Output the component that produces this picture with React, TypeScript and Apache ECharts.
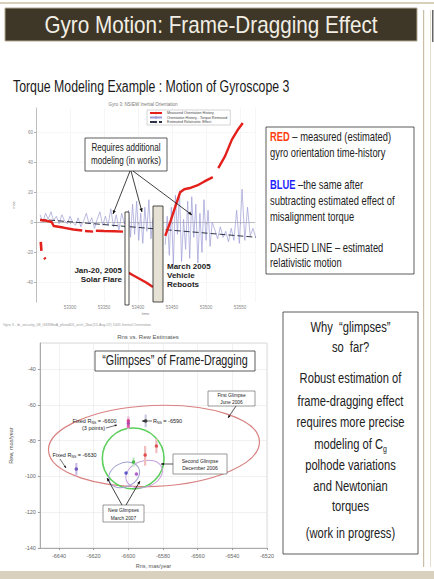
import React, { useEffect, useRef } from "react";
import * as echarts from "echarts";

const SANS = '"Liberation Sans", Arial, sans-serif';

// ---------------- top chart (Gyro 3 orientation history) ----------------
const topXTicks = [53300, 53350, 53400, 53450, 53500, 53550];
const topYTicks = [-40, -20, 0, 20, 40, 60];
const topNames = [
  "Measured Orientation History",
  "Orientation History - Torque Removed",
  "Estimated Relativistic Effect",
];

const redMeasured: [number, number | null][] = [
  [53256, 1.5], [53266, 1.0], [53273, 0.2], [53276, -2.5], [53290, -3.5], [53305, -4.8], [53318, -5.5], [53320, null],
  [53322, -5.8], [53334, -6.2], [53336, null],
  [53338, -5.6], [53350, -5.8], [53365, -6.0], [53378, -6.2], [53381, null],
  [53384, -33], [53392, -35], [53402, -37.5], [53412, -40], [53422, -43], [53430, null],
  [53440, -9], [53448, 1], [53456, 12], [53462, 20], [53468, 22], [53478, 23], [53487, 24.5], [53497, 27], [53510, 30], [53514, null],
  [53518, 36], [53528, 44], [53538, 55], [53546, 61], [53554, 66],
];
const redEarly: [number, number | null][] = [
  [53257, -13], [53258, -19], [53260, null], [53262, -23.5], [53264, -24.5],
];
const blueTorqueRemoved: [number, number | null][] = [
  [53256, 5], [53260, 0], [53264, 6], [53268, 2], [53272, 7], [53276, 1], [53280, 4], [53284, -1],
  [53288, 5], [53292, 1], [53296, -1], [53300, 4], [53304, 0], [53308, -2], [53312, 3], [53316, -3],
  [53320, 1], [53324, 6], [53328, -1], [53332, 3], [53336, -4], [53340, 2], [53344, 7], [53348, -2],
  [53352, 4], [53356, -2], [53360, 9], [53364, -3], [53368, 5], [53372, -5], [53376, 6], [53380, -1],
  [53386, 8], [53389, -10], [53392, 12], [53395, -8], [53398, 14], [53401, -12], [53404, 6], [53407, -14],
  [53410, 10], [53413, -6], [53416, 15], [53419, -11], [53422, 3], [53430, null],
  [53440, -15], [53443, 4], [53446, -22], [53449, 10], [53452, -28], [53455, 18], [53458, -8], [53461, 21],
  [53464, -26], [53467, 2], [53470, -18], [53473, 14], [53476, -24], [53479, 17], [53482, -10], [53485, 12],
  [53488, -27], [53491, 6], [53494, -20], [53497, 15], [53500, -12], [53503, 8], [53506, -16], [53509, 0],
  [53513, -5], [53517, -11], [53521, -3], [53525, -10], [53529, -6], [53533, -13], [53537, -4], [53541, -12],
  [53545, 8], [53549, -14], [53553, 22], [53557, -12], [53561, 10], [53565, -9], [53569, -4], [53573, -10],
];
const dashedRelativistic: [number, number][] = [[53256, 2], [53575, -10]];

// ---------------- bottom chart (Rns vs Rew estimates) ----------------
const bottomXTicks = [-6640, -6620, -6600, -6580, -6560, -6540, -6520];
const bottomYMin = -140;
const bottomYMax = -25.5;
const glimpsePoints: [number, number][] = [
  [-6600, -69], [-6600, -70.5], [-6600, -72],
  [-6590, -69],
  [-6583.8, -83],
  [-6590.3, -88],
  [-6597, -92],
  [-6601.3, -98.1],
  [-6595.3, -98.7],
  [-6630, -95.9],
];
const pointColors = ["#d6287a", "#9b2ca8", "#e04aa0", "#333333", "#d63a3a", "#e03030", "#2aaa2a", "#3a3ac0", "#9a3ac0", "#5a3ab0"];
// [x, low, high]
const errorBars: [number, number, number][] = [
  [-6600, -66.5, -73.5],
  [-6590, -65.5, -72.5],
  [-6583.8, -79, -87],
  [-6590.3, -83, -94],
  [-6597, -89.5, -94.5],
  [-6630, -92.5, -99.5],
];
const errorColors = ["#e8bcd8", "#c8c8dc", "#f0bcbc", "#f0bcbc", "#bfe6bf", "#cbbde8"];
// [cx, cy, rx, ry, rotationDeg]
const ellipses: [number, number, number, number, number][] = [
  [-6585.2, -83.0, 60.9, 22.6, 2.5],
  [-6597.2, -90.0, 17.8, 17.0, 0],
  [-6602.4, -99.2, 9.3, 6.7, 25],
  [-6590.9, -98.7, 10.9, 7.3, 20],
];
const ellipseColors = ["#d98080", "#5ccf5c", "#a0a0d0", "#c8a0dc"];
const ellipseWidths = [1.2, 1.6, 1, 1];

// ---------------- graphic helpers ----------------
const g: any[] = [];
function rect(x: number, y: number, w: number, h: number, fill: string, stroke?: string, lw = 0.8) {
  g.push({ type: "rect", z: 100, shape: { x, y, width: w, height: h }, style: { fill, stroke: stroke ?? "none", lineWidth: lw } });
}
function text(x: number, y: number, t: string, o: { size: number; color?: string; align?: string; weight?: string; sx?: number; rich?: any }) {
  g.push({
    type: "text", z: 101, x, y, scaleX: o.sx ?? 1,
    style: {
      text: t, fill: o.color ?? "#222",
      font: `${o.weight ?? "normal"} ${o.size}px ${SANS}`,
      textAlign: o.align ?? "left", textVerticalAlign: "middle",
      rich: o.rich,
    },
  });
}
function arrow(x1: number, y1: number, x2: number, y2: number, lw = 0.8, head = 4, color = "#111") {
  const a = Math.atan2(y2 - y1, x2 - x1);
  const p1 = [x2 - head * Math.cos(a - 0.42), y2 - head * Math.sin(a - 0.42)];
  const p2 = [x2 - head * Math.cos(a + 0.42), y2 - head * Math.sin(a + 0.42)];
  g.push({ type: "line", z: 100, shape: { x1, y1, x2, y2 }, style: { stroke: color, lineWidth: lw } });
  g.push({ type: "polygon", z: 100, shape: { points: [[x2, y2], p1, p2] }, style: { fill: color } });
}
const sub = (size: number) => ({ s: { fontSize: size, fontFamily: SANS, verticalAlign: "bottom", lineHeight: size * 2.2 } });

// slide frame
rect(0, 2, 434, 2, "#d9d0bb");
rect(5, 8, 412, 33, "#3e3627", "#b3aa92", 1);
text(211, 25, "Gyro Motion: Frame-Dragging Effect", { size: 23, sx: 0.9, color: "#f2eee4", align: "center" });
rect(423, 10, 1.2, 557, "#c9bea5");
rect(430, 10, 1, 557, "#e4ddcc");
rect(432, 10, 1.5, 32, "#666666");
rect(0, 571, 434, 8, "#d9d0bd");

text(13, 86, "Torque Modeling Example : Motion of Gyroscope 3", { size: 16, sx: 0.77, color: "#1a1a1a" });

// top chart annotations
text(143, 104, "Gyro 3: NS/EW Inertial Orientation", { size: 4.5, color: "#777", align: "center" });
rect(85, 138, 82, 33, "#ffffff", "#333", 0.8);
text(126, 148, "Requires additional", { size: 10.5, sx: 0.77, align: "center" });
text(126, 161, "modeling (in works)", { size: 10.5, sx: 0.77, align: "center" });
arrow(130, 171, 113, 214);
arrow(131, 171, 142, 212);
arrow(133, 171, 192, 215);
rect(125, 212, 4, 93, "#fffef8", "#222", 0.8);
rect(153, 206, 10, 96, "#e6e1d5", "#222", 0.8);
text(122, 270, "Jan-20, 2005", { size: 8, weight: "bold", align: "right" });
text(122, 279, "Solar Flare", { size: 8, weight: "bold", align: "right" });
text(167, 266, "March 2005", { size: 8, weight: "bold" });
text(167, 275, "Vehicle", { size: 8, weight: "bold" });
text(167, 284, "Reboots", { size: 8, weight: "bold" });

// right box 1
rect(266, 127, 148, 147, "#ffffff", "#333", 0.8);
const richRB = {
  r: { fill: "#ff3d0d", fontWeight: "bold", fontSize: 12, fontFamily: SANS },
  b: { fill: "#1f1fff", fontWeight: "bold", fontSize: 12, fontFamily: SANS },
};
const b1 = { size: 12, sx: 0.78, rich: richRB };
text(270, 137, "{r|RED} – measured (estimated)", b1);
text(270, 153, "gyro orientation time-history", b1);
text(270, 185, "{b|BLUE} –the same after", b1);
text(270, 201, "subtracting estimated effect of", b1);
text(270, 217, "misalignment torque", b1);
text(270, 248, "DASHED LINE – estimated", b1);
text(270, 263, "relativistic motion", b1);

// right box 2
rect(283, 312, 135, 242, "#ffffff", "#333", 0.8);
const b2 = { size: 14.5, sx: 0.77, align: "center" };
text(350.5, 327, "Why  “glimpses”", b2);
text(350.5, 347, "so  far?", b2);
text(350.5, 378, "Robust estimation of", b2);
text(350.5, 401, "frame-dragging effect", b2);
text(350.5, 422, "requires more precise", b2);
text(350.5, 444, "modeling of C{s|g}", { ...b2, rich: sub(9) });
text(350.5, 465, "polhode variations", b2);
text(350.5, 486, "and Newtonian", b2);
text(350.5, 506, "torques", b2);
text(350.5, 533, "(work in progress)", b2);

// bottom chart annotations
text(3, 325, "Gyro 3 - dr_security_08_GSSMwA_pfixedD5_arch_2bar(15-Aug-07) 1005 Inertial Orientation", { size: 3.6, color: "#999" });
text(148, 337, "Rns vs. Rew Estimates", { size: 6, color: "#555", align: "center" });
rect(95, 351, 160, 20, "#ffffff", "#333", 0.8);
text(175, 361, "“Glimpses” of Frame-Dragging", { size: 14, sx: 0.77, align: "center" });

rect(208, 391, 47, 15, "#ffffff", "#555", 0.6);
text(231.5, 395, "First Glimpse", { size: 4.8, align: "center" });
text(231.5, 402, "June 2006", { size: 4.8, align: "center" });
arrow(236, 406, 228, 418, 0.7, 3);

rect(173, 454, 54, 20, "#ffffff", "#555", 0.6);
text(200, 461, "Second Glimpse", { size: 5, align: "center" });
text(200, 468, "December 2006", { size: 5, align: "center" });
arrow(173, 464, 161, 464, 0.7, 3);

rect(103, 505, 41, 17, "#ffffff", "#555", 0.6);
text(123.5, 510, "New Glimpses", { size: 4.8, align: "center" });
text(123.5, 518, "March 2007", { size: 4.8, align: "center" });
arrow(122, 505, 107, 478, 0.8, 3.5);
arrow(126, 505, 140, 481, 0.8, 3.5);

text(94.5, 421, "Fixed R{s|NS} = -6600", { size: 5.5, align: "center", rich: sub(3.5) });
text(93.5, 428, "(3 points)", { size: 5.5, align: "center" });
arrow(106, 428, 117, 425, 0.6, 2.5);
text(153, 421, "R{s|NS} = -6590", { size: 5.5, rich: sub(3.5) });
arrow(152, 421, 142, 421, 0.6, 2.5);
text(74.5, 455, "Fixed R{s|NS} = -6630", { size: 5.5, align: "center", rich: sub(3.5) });
arrow(60, 459, 66, 468, 0.6, 2.5);

// ---------------- option ----------------
const axisGray = "#b0b0b0";
const plain = (v: number) => String(v);
const option: any = {
  animation: false,
  backgroundColor: "#ffffff",
  textStyle: { fontFamily: SANS },
  grid: [
    { left: 36, top: 108, width: 219, height: 194 },
    { left: 28, top: 343, width: 239, height: 205, show: true, borderColor: "#d0d0d0", borderWidth: 0.8 },
  ],
  legend: {
    data: topNames, left: 147, top: 110, orient: "vertical", itemWidth: 12, itemHeight: 3, itemGap: 0.5,
    padding: [1, 3, 1, 2], backgroundColor: "#ffffff", borderColor: "#aaaaaa", borderWidth: 0.5,
    textStyle: { fontSize: 3.6, color: "#444" }, selectedMode: false,
  },
  xAxis: [
    {
      type: "value", gridIndex: 0, min: 53250, max: 53572, interval: 50,
      axisLine: { lineStyle: { color: axisGray, width: 0.8 } },
      axisTick: { length: 2, lineStyle: { color: axisGray } },
      axisLabel: { fontSize: 4.5, color: "#888", margin: 3, showMinLabel: false, showMaxLabel: false, formatter: plain },
      splitLine: { lineStyle: { color: "#f0f0f0", width: 0.6 } },
      name: "time", nameLocation: "middle", nameGap: 9, nameTextStyle: { fontSize: 4, color: "#888" },
    },
    {
      type: "value", gridIndex: 1, min: -6651, max: -6520,
      axisLine: { lineStyle: { color: "#999", width: 0.8 } },
      axisTick: { customValues: bottomXTicks, length: 2, lineStyle: { color: "#999" } },
      axisLabel: { customValues: bottomXTicks, fontSize: 5.5, color: "#666", margin: 5, formatter: plain },
      splitLine: { lineStyle: { color: "#e8e8e8", width: 0.6 } },
      name: "Rns, mas/year", nameLocation: "middle", nameGap: 15, nameTextStyle: { fontSize: 5.5, color: "#555" },
    },
  ],
  yAxis: [
    {
      type: "value", gridIndex: 0, min: -53, max: 76,
      axisLine: { show: true, lineStyle: { color: axisGray, width: 0.8 } },
      axisTick: { show: true, customValues: topYTicks, length: 2, lineStyle: { color: axisGray } },
      axisLabel: { customValues: topYTicks, fontSize: 4.5, color: "#888", margin: 3, formatter: plain },
      splitLine: { lineStyle: { color: "#f2f2f2", width: 0.6 } },
      name: "mas", nameLocation: "middle", nameGap: 15, nameRotate: 90, nameTextStyle: { fontSize: 4, color: "#888" },
    },
    {
      type: "value", gridIndex: 1, min: bottomYMin, max: bottomYMax, interval: 20,
      axisLine: { show: true, lineStyle: { color: "#999", width: 0.8 } },
      axisTick: { show: true, length: 2, lineStyle: { color: "#999" } },
      axisLabel: { fontSize: 5.5, color: "#666", margin: 4, showMaxLabel: false, formatter: plain },
      splitLine: { lineStyle: { color: "#e8e8e8", width: 0.6 } },
      name: "Rew, mas/year", nameLocation: "middle", nameGap: 16, nameRotate: 90, nameTextStyle: { fontSize: 5.5, color: "#555" },
    },
  ],
  series: [
    {
      name: topNames[1], type: "line", xAxisIndex: 0, yAxisIndex: 0, data: blueTorqueRemoved,
      symbol: "none", connectNulls: false, lineStyle: { color: "#9c9cd6", width: 0.7 }, itemStyle: { color: "#9c9cd6" },
    },
    {
      name: topNames[2], type: "line", xAxisIndex: 0, yAxisIndex: 0, data: dashedRelativistic,
      symbol: "none", lineStyle: { color: "#2e3448", width: 1, type: [6, 3] }, itemStyle: { color: "#2e3448" },
    },
    {
      name: topNames[0], type: "line", xAxisIndex: 0, yAxisIndex: 0, data: redMeasured,
      symbol: "none", connectNulls: false, lineStyle: { color: "#e3201b", width: 2.4 }, itemStyle: { color: "#e3201b" },
    },
    {
      type: "line", xAxisIndex: 0, yAxisIndex: 0, data: redEarly,
      symbol: "none", connectNulls: false, lineStyle: { color: "#e3201b", width: 2.6 },
    },
    {
      type: "custom", coordinateSystem: "cartesian2d", xAxisIndex: 1, yAxisIndex: 1, data: ellipses,
      encode: { x: 0, y: 1 },
      renderItem: (params: any, api: any) => {
        const c = api.coord([api.value(0), api.value(1)]);
        const s = api.size([api.value(2), api.value(3)]);
        return {
          type: "ellipse", x: c[0], y: c[1], rotation: (api.value(4) * Math.PI) / 180,
          shape: { cx: 0, cy: 0, rx: s[0], ry: s[1] },
          style: { fill: "none", stroke: ellipseColors[params.dataIndex], lineWidth: ellipseWidths[params.dataIndex] },
        };
      },
    },
    {
      type: "custom", coordinateSystem: "cartesian2d", xAxisIndex: 1, yAxisIndex: 1, data: errorBars,
      encode: { x: 0, y: [1, 2] },
      renderItem: (params: any, api: any) => {
        const lo = api.coord([api.value(0), api.value(1)]);
        const hi = api.coord([api.value(0), api.value(2)]);
        return {
          type: "line", shape: { x1: lo[0], y1: lo[1], x2: hi[0], y2: hi[1] },
          style: { stroke: errorColors[params.dataIndex], lineWidth: 2.2 },
        };
      },
    },
    {
      type: "scatter", xAxisIndex: 1, yAxisIndex: 1, data: glimpsePoints, symbolSize: 3.5,
      itemStyle: { color: (p: any) => pointColors[p.dataIndex] },
    },
  ],
  graphic: { elements: g },
};

export default function App() {
  const ref = useRef<HTMLDivElement>(null);
  useEffect(() => {
    document.body.style.margin = "0";
    const chart = echarts.init(ref.current!, null, { renderer: "svg" });
    chart.setOption(option);
    return () => chart.dispose();
  }, []);
  return <div ref={ref} style={{ width: 434, height: 579, background: "#fff" }} />;
}
